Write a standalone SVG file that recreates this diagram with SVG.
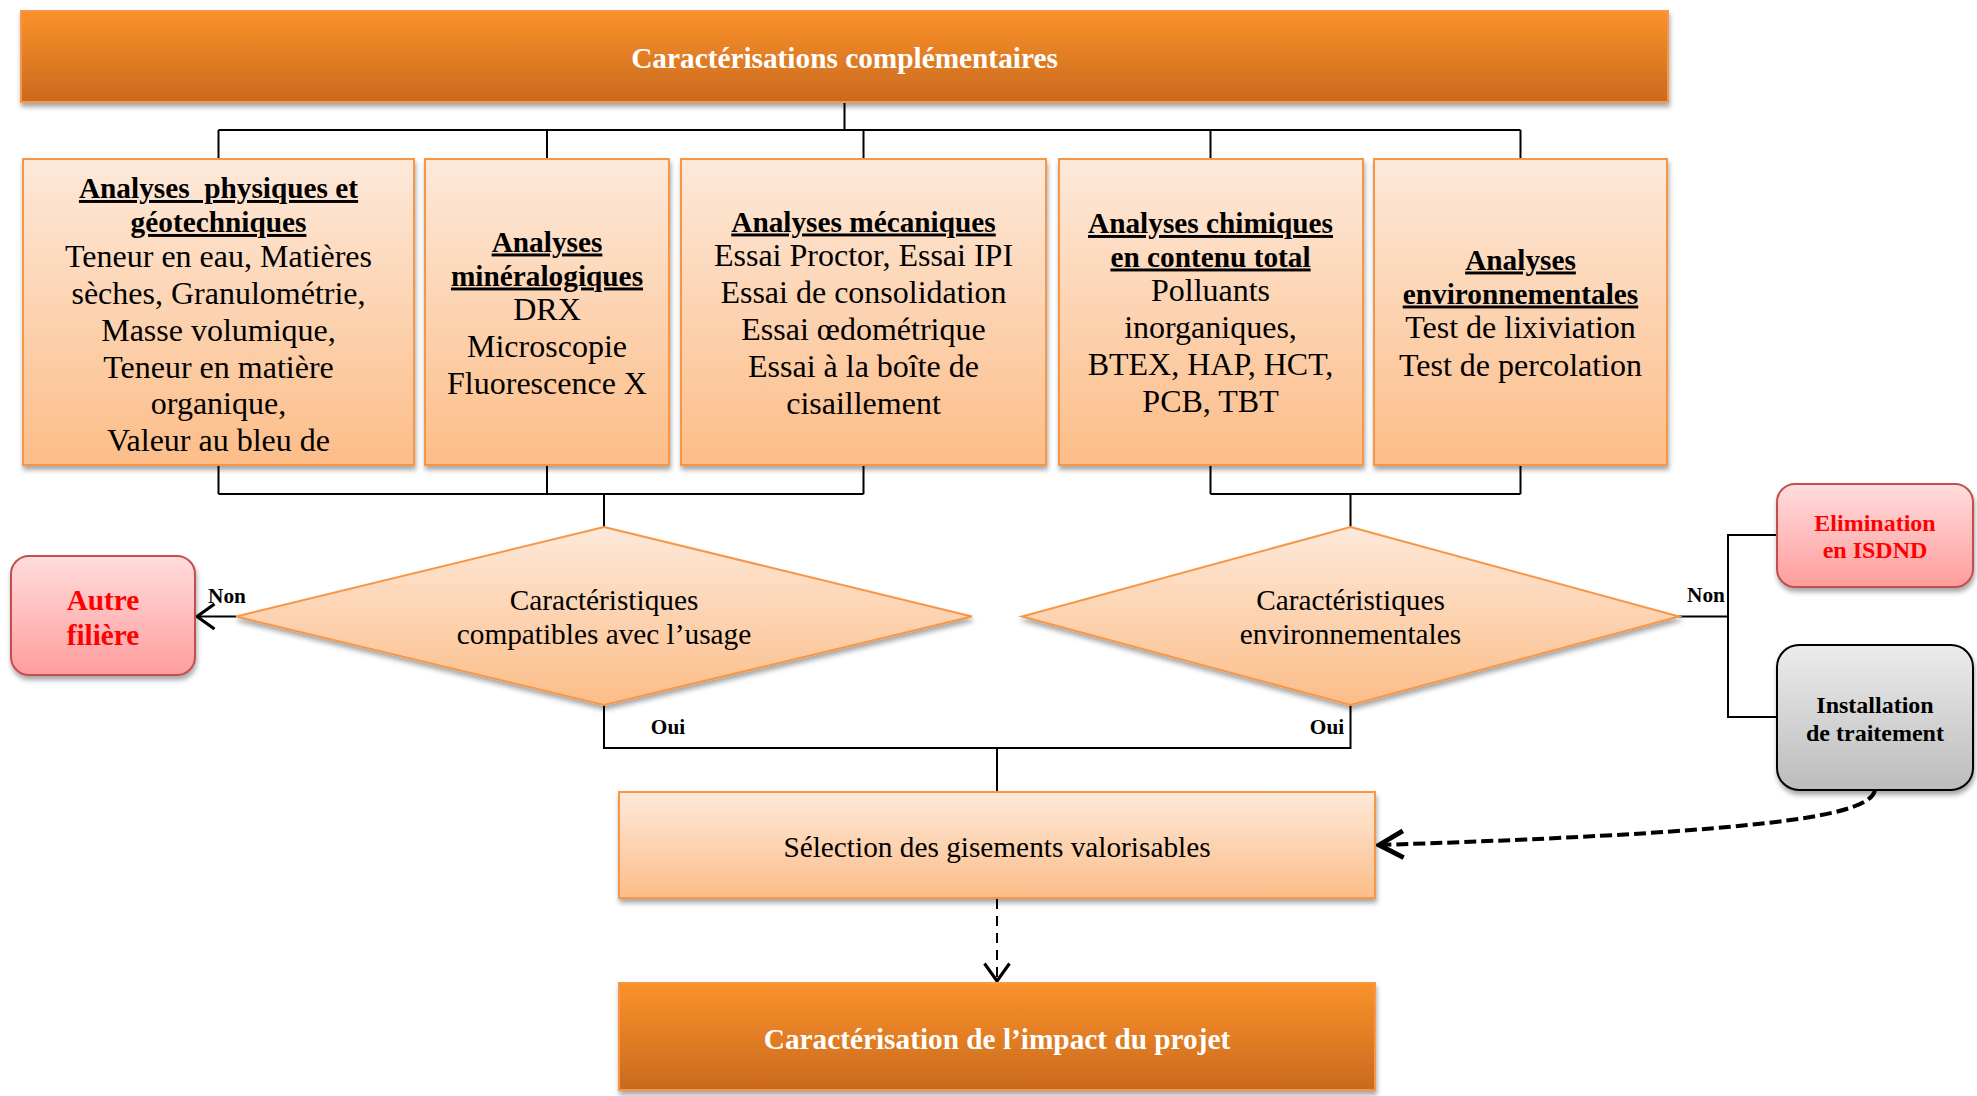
<svg xmlns="http://www.w3.org/2000/svg" width="1977" height="1096" viewBox="0 0 1977 1096">
  <style>
    text { font-family: "Liberation Serif", "Times New Roman", serif; text-anchor: middle; }
    .hdr { font-size: 29.3px; font-weight: bold; fill: #ffffff; }
    .h { font-size: 29.3px; font-weight: bold; fill: #000; text-decoration: underline; }
    .t { font-size: 32px; fill: #000; }
    .d { font-size: 29.3px; fill: #000; }
    .lbl { font-size: 21.3px; font-weight: bold; fill: #000; }
    .red { font-weight: bold; fill: #ff0000; }
    .blk { font-weight: bold; fill: #000; }
    .dark { fill: url(#gDark); stroke: #f79646; stroke-width: 2; filter: url(#shadow); }
    .light { fill: url(#gLight); stroke: #f79646; stroke-width: 2; filter: url(#shadow); }
    .pink { fill: url(#gPink); stroke: #c0504d; stroke-width: 2; filter: url(#shadow); }
    .grey { fill: url(#gGrey); stroke: #000; stroke-width: 2; filter: url(#shadow); }
    .ln { fill: none; stroke: #000; stroke-width: 2; }
    .dash { fill: none; stroke: #000; stroke-width: 2; stroke-dasharray: 10 7; }
    .bigdash { fill: none; stroke: #000; stroke-width: 4; stroke-dasharray: 12 5; }
  </style>
  <defs>
    <linearGradient id="gDark" x1="0" y1="0" x2="0" y2="1">
      <stop offset="0" stop-color="#fa922b"/>
      <stop offset="1" stop-color="#ca691e"/>
    </linearGradient>
    <linearGradient id="gLight" x1="0" y1="0" x2="0" y2="1">
      <stop offset="0" stop-color="#fde9da"/>
      <stop offset="1" stop-color="#fcbd88"/>
    </linearGradient>
    <linearGradient id="gPink" x1="0" y1="0" x2="0" y2="1">
      <stop offset="0" stop-color="#ffdcdc"/>
      <stop offset="1" stop-color="#ff9d9d"/>
    </linearGradient>
    <linearGradient id="gGrey" x1="0" y1="0" x2="0" y2="1">
      <stop offset="0" stop-color="#ececec"/>
      <stop offset="1" stop-color="#bcbcbc"/>
    </linearGradient>
    <filter id="shadow" x="-10%" y="-10%" width="120%" height="130%">
      <feDropShadow dx="1" dy="4" stdDeviation="2.5" flood-color="#000" flood-opacity="0.35"/>
    </filter>
    <marker id="openArrow" markerUnits="userSpaceOnUse" markerWidth="30" markerHeight="30" viewBox="-16 -12 20 24" refX="0" refY="0" orient="auto">
      <path d="M-14,-10 L0,0 L-14,10" fill="none" stroke="#000" stroke-width="2.5"/>
    </marker>
    <marker id="openArrowBold" markerUnits="userSpaceOnUse" markerWidth="34" markerHeight="34" viewBox="-24 -14 28 28" refX="0" refY="0" orient="auto">
      <path d="M-20,-11 L0,0 L-20,11" fill="none" stroke="#000" stroke-width="4"/>
    </marker>
  </defs>

  <!-- connectors -->
  <g id="connectors">
    <path class="ln" d="M844.5,102 V130 M218.5,130 H1520.5 M218.5,130 V159 M547,130 V159 M863.5,130 V159 M1210.5,130 V159 M1520.5,130 V159"/>
    <path class="ln" d="M218.5,465 V494 M547,465 V494 M863.5,465 V494 M218.5,494 H863.5 M604,494 V527"/>
    <path class="ln" d="M1210.5,465 V494 M1520.5,465 V494 M1210.5,494 H1520.5 M1350.5,494 V527"/>
    <path class="ln" d="M236,616.5 H197" marker-end="url(#openArrow)"/>
    <path class="ln" d="M1679,616.5 H1728 M1777,535 H1728 V717 H1777"/>
    <path class="ln" d="M604,705 V748 H1350.5 V705 M997,748 V792"/>
    <path class="dash" d="M997,899 V981" marker-end="url(#openArrow)"/>
    <path class="bigdash" d="M1875,790 C1870,815 1780,832 1379,845" marker-end="url(#openArrowBold)"/>
    <text class="lbl" x="227" y="603">Non</text>
    <text class="lbl" x="1706" y="602">Non</text>
    <text class="lbl" x="668" y="734">Oui</text>
    <text class="lbl" x="1327" y="734">Oui</text>
  </g>

  <!-- top header -->
  <g id="header">
    <rect class="dark" x="21" y="11" width="1647" height="91"/>
    <text class="hdr" x="844.5" y="68">Caractérisations complémentaires</text>
  </g>

  <!-- analysis boxes -->
  <g id="box-physiques">
    <rect class="light" x="23" y="159" width="391" height="306"/>
    <text class="h" x="218.5" y="198" xml:space="preserve">Analyses  physiques et</text>
    <text class="h" x="218.5" y="232">géotechniques</text>
    <text class="t" x="218.5" y="267">Teneur en eau, Matières</text>
    <text class="t" x="218.5" y="303.5">sèches, Granulométrie,</text>
    <text class="t" x="218.5" y="341">Masse volumique,</text>
    <text class="t" x="218.5" y="378">Teneur en matière</text>
    <text class="t" x="218.5" y="413.5">organique,</text>
    <text class="t" x="218.5" y="450.5">Valeur au bleu de</text>
  </g>
  <g id="box-mineralogiques">
    <rect class="light" x="425" y="159" width="244" height="306"/>
    <text class="h" x="547" y="251.5">Analyses</text>
    <text class="h" x="547" y="285.5">minéralogiques</text>
    <text class="t" x="547" y="320">DRX</text>
    <text class="t" x="547" y="357">Microscopie</text>
    <text class="t" x="547" y="394">Fluorescence X</text>
  </g>
  <g id="box-mecaniques">
    <rect class="light" x="681" y="159" width="365" height="306"/>
    <text class="h" x="863.5" y="231.5">Analyses mécaniques</text>
    <text class="t" x="863.5" y="265.5">Essai Proctor, Essai IPI</text>
    <text class="t" x="863.5" y="302.5">Essai de consolidation</text>
    <text class="t" x="863.5" y="339.5">Essai œdométrique</text>
    <text class="t" x="863.5" y="376.5">Essai à la boîte de</text>
    <text class="t" x="863.5" y="413.5">cisaillement</text>
  </g>
  <g id="box-chimiques">
    <rect class="light" x="1059" y="159" width="304" height="306"/>
    <text class="h" x="1210.5" y="233">Analyses chimiques</text>
    <text class="h" x="1210.5" y="266.5">en contenu total</text>
    <text class="t" x="1210.5" y="300.5">Polluants</text>
    <text class="t" x="1210.5" y="337.5">inorganiques,</text>
    <text class="t" x="1210.5" y="374.5">BTEX, HAP, HCT,</text>
    <text class="t" x="1210.5" y="411.5">PCB, TBT</text>
  </g>
  <g id="box-environnementales">
    <rect class="light" x="1374" y="159" width="293" height="306"/>
    <text class="h" x="1520.5" y="269.5">Analyses</text>
    <text class="h" x="1520.5" y="303.5">environnementales</text>
    <text class="t" x="1520.5" y="338">Test de lixiviation</text>
    <text class="t" x="1520.5" y="375.5">Test de percolation</text>
  </g>

  <!-- decisions -->
  <g id="decision-usage">
    <polygon class="light" points="604,527 972,616.5 604,705 236,616.5"/>
    <text class="d" x="604" y="610">Caractéristiques</text>
    <text class="d" x="604" y="644">compatibles avec l’usage</text>
  </g>
  <g id="decision-env">
    <polygon class="light" points="1350.5,527 1679,616.5 1350.5,705 1022,616.5"/>
    <text class="d" x="1350.5" y="610">Caractéristiques</text>
    <text class="d" x="1350.5" y="643.5">environnementales</text>
  </g>

  <!-- outcomes -->
  <g id="autre-filiere">
    <rect class="pink" x="11" y="556" width="184" height="119" rx="18" ry="18"/>
    <text class="red" x="103" y="610" font-size="29.3">Autre</text>
    <text class="red" x="103" y="645" font-size="29.3">filière</text>
  </g>
  <g id="elimination">
    <rect class="pink" x="1777" y="484" width="196" height="103" rx="18" ry="18"/>
    <text class="red" x="1875" y="531" font-size="24">Elimination</text>
    <text class="red" x="1875" y="558" font-size="24">en ISDND</text>
  </g>
  <g id="installation">
    <rect class="grey" x="1777" y="645" width="196" height="145" rx="22" ry="22"/>
    <text class="blk" x="1875" y="713" font-size="24">Installation</text>
    <text class="blk" x="1875" y="741" font-size="24">de traitement</text>
  </g>
  <g id="selection">
    <rect class="light" x="619" y="792" width="756" height="106"/>
    <text class="d" x="997" y="857">Sélection des gisements valorisables</text>
  </g>
  <g id="impact">
    <rect class="dark" x="619" y="983" width="756" height="107"/>
    <text class="hdr" x="997" y="1049">Caractérisation de l’impact du projet</text>
  </g>
</svg>
